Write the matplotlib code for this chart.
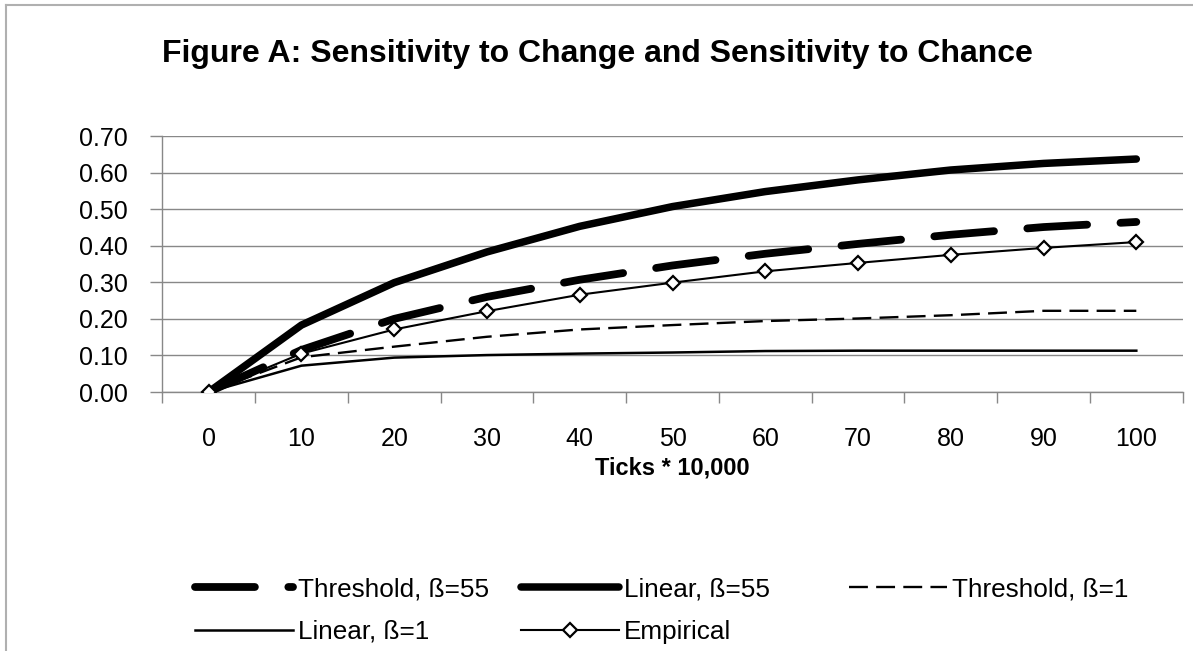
import matplotlib
matplotlib.use("Agg")
import matplotlib.pyplot as plt
from matplotlib.lines import Line2D

plt.rcParams['font.family'] = ['Liberation Sans', 'DejaVu Sans']

# 数据
ticks = [0, 10, 20, 30, 40, 50, 60, 70, 80, 90, 100]
threshold_55 = [0, 0.115, 0.200, 0.260, 0.307, 0.346, 0.378, 0.405, 0.430, 0.451, 0.465]
linear_55 = [0, 0.183, 0.299, 0.383, 0.453, 0.507, 0.548, 0.580, 0.607, 0.625, 0.637]
threshold_1 = [0, 0.095, 0.124, 0.151, 0.171, 0.183, 0.194, 0.201, 0.210, 0.222, 0.222]
linear_1 = [0, 0.072, 0.094, 0.101, 0.105, 0.108, 0.112, 0.113, 0.113, 0.113, 0.113]
empirical = [0, 0.105, 0.171, 0.221, 0.266, 0.299, 0.330, 0.353, 0.375, 0.394, 0.410]
y_ticks = [0.0, 0.1, 0.2, 0.3, 0.4, 0.5, 0.6, 0.7]

W, H = 1193, 651
fig = plt.figure(figsize=(W / 100, H / 100), dpi=100)
ax = fig.add_axes([162.3 / W, 1 - 392 / H, 1020.4 / W, 256 / H])

x = list(range(len(ticks)))
grey = '#888888'

l_t55, = ax.plot(x, threshold_55, color='black', linewidth=5.6,
                 linestyle=(0, (7.7, 4.3)), dash_capstyle='round',
                 solid_capstyle='round', label='Threshold, ß=55', zorder=3)
l_l55, = ax.plot(x, linear_55, color='black', linewidth=5.4,
                 solid_capstyle='round', label='Linear, ß=55', zorder=3)
l_t1, = ax.plot(x, threshold_1, color='black', linewidth=1.7,
                linestyle=(0, (8, 3.5)), label='Threshold, ß=1', zorder=3)
l_l1, = ax.plot(x, linear_1, color='black', linewidth=1.8,
                label='Linear, ß=1', zorder=3)
l_emp, = ax.plot(x, empirical, color='black', linewidth=1.5, marker='D',
                 markersize=7.5, markerfacecolor='white',
                 markeredgecolor='black', markeredgewidth=1.6,
                 label='Empirical', zorder=4)

ax.set_xlim(-0.5, len(ticks) - 0.5)
ax.set_ylim(0, 0.7)
ax.set_yticks(y_ticks)
ax.set_yticklabels([f'{v:.2f}' for v in y_ticks])
ax.set_xticks(x)
ax.set_xticklabels([str(t) for t in ticks])
ax.set_xticks([i - 0.5 for i in range(len(ticks) + 1)], minor=True)

ax.tick_params(axis='x', which='major', length=0, pad=25, labelsize=18)
ax.tick_params(axis='x', which='minor', length=8, width=1, color=grey,
               direction='out')
ax.tick_params(axis='y', length=9, width=1, color=grey, direction='out',
               pad=16, labelsize=18)

ax.grid(True, axis='y', color=grey, linewidth=1.0)
ax.set_axisbelow(True)
for s in ['top', 'right']:
    ax.spines[s].set_visible(False)
for s in ['left', 'bottom']:
    ax.spines[s].set_color(grey)
    ax.spines[s].set_linewidth(1.0)

ax.set_xlabel('Ticks * 10,000', fontsize=17, fontweight='bold', labelpad=4)

fig.text(597 / W, 1 - 62 / H,
         'Figure A: Sensitivity to Change and Sensitivity to Chance',
         ha='center', va='baseline', fontsize=23, fontweight='bold')

# 图例分三列
leg_kw = dict(frameon=False, fontsize=18.8, handlelength=3.75,
              handletextpad=0.2, labelspacing=0.72, borderpad=0,
              borderaxespad=0, loc='upper left')
col_x = [195, 521, 849]
cols = [[l_t55, l_l1], [l_l55, l_emp], [l_t1]]
for cx, hs in zip(col_x, cols):
    fig.legend(handles=hs, labels=[h.get_label() for h in hs],
               bbox_to_anchor=(cx / W, 1 - 577 / H), **leg_kw)

# 外框
border = '#b0b0b0'
fig.add_artist(Line2D([6.5 / W, 1.0], [1 - 4.5 / H, 1 - 4.5 / H],
                      color=border, linewidth=1.5))
fig.add_artist(Line2D([6.5 / W, 6.5 / W], [0, 1 - 4.5 / H],
                      color=border, linewidth=1.5))

fig.savefig('out.png', dpi=100)
